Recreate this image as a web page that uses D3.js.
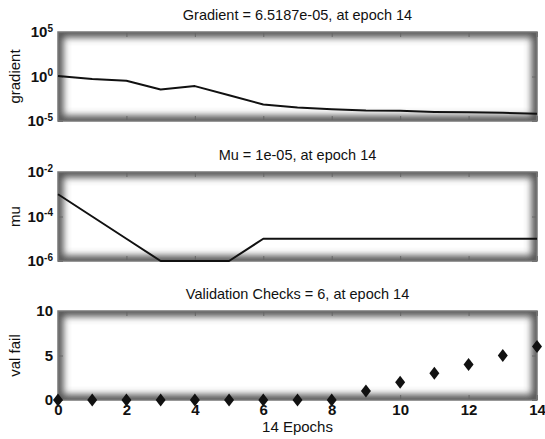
<!DOCTYPE html>
<html>
<head>
<meta charset="utf-8">
<script src="https://cdn.jsdelivr.net/npm/d3@7"></script>
<style>
  body { margin: 0; background: #fff; }
  text { font-family: "Liberation Sans", Arial, sans-serif; }
</style>
</head>
<body>
<div class="canvas"></div>
<script>
// Data
const epochs = [0, 1, 2, 3, 4, 5, 6, 7, 8, 9, 10, 11, 12, 13, 14]
const gradient = [1.15, 0.52, 0.34, 0.035, 0.083, 0.008, 7e-4, 3.2e-4, 2.1e-4, 1.5e-4, 1.4e-4, 1.05e-4, 9.5e-5, 8.3e-5, 6.5187e-5]
const mu = [1e-3, 1e-4, 1e-5, 1e-6, 1e-6, 1e-6, 1e-5, 1e-5, 1e-5, 1e-5, 1e-5, 1e-5, 1e-5, 1e-5, 1e-5]
const valFail = [0, 0, 0, 0, 0, 0, 0, 0, 0, 1, 2, 3, 4, 5, 6]
const xTicks = [0, 2, 4, 6, 8, 10, 12, 14]
const gradTicks = [1e-5, 1, 1e5]
const muTicks = [1e-6, 1e-4, 1e-2]
const valTicks = [0, 5, 10]

const width = 545
const height = 439
const left = 58, right = 537
const panelH = 89

const svg = d3.select('.canvas')
  .append('svg')
    .attr('width', width)
    .attr('height', height)

const defs = svg.append('defs')
defs.append('filter')
    .attr('id', 'soft')
    .attr('x', '-20%').attr('y', '-20%').attr('width', '140%').attr('height', '140%')
  .append('feGaussianBlur')
    .attr('stdDeviation', 3.5)

// Shared x scale
const x = d3.scaleLinear()
  .domain([0, 14])
  .range([left, right])

// Draw a panel frame with the soft inner shadow
const makePanel = (id, top, y, yTicks, yFormat, title, ylabel) => {
  const g = svg.append('g')

  defs.append('clipPath')
      .attr('id', 'clip-' + id)
    .append('rect')
      .attr('x', left).attr('y', top)
      .attr('width', right - left).attr('height', panelH)

  g.append('rect')
    .attr('x', left).attr('y', top)
    .attr('width', right - left).attr('height', panelH)
    .attr('fill', '#fff')

  g.append('g')
      .attr('clip-path', `url(#clip-${id})`)
    .append('rect')
      .attr('x', left).attr('y', top)
      .attr('width', right - left).attr('height', panelH)
      .attr('fill', 'none')
      .attr('stroke', '#555')
      .attr('stroke-width', 11)
      .attr('filter', 'url(#soft)')

  // ticks pointing inward, top/bottom and left/right
  const xb = d3.axisBottom(x).tickValues(xTicks).tickSize(-5).tickFormat('')
  const xt = d3.axisTop(x).tickValues(xTicks).tickSize(-5).tickFormat('')
  const yl = d3.axisLeft(y).tickValues(yTicks).tickSize(-5).tickPadding(5).tickFormat(yFormat)
  const yr = d3.axisRight(y).tickValues(yTicks).tickSize(-5).tickFormat('')

  const axes = g.append('g')
  axes.append('g').attr('transform', `translate(0,${top + panelH})`).call(xb)
  axes.append('g').attr('transform', `translate(0,${top})`).call(xt)
  const ylg = axes.append('g').attr('transform', `translate(${left},0)`).call(yl)
  axes.append('g').attr('transform', `translate(${right},0)`).call(yr)

  axes.selectAll('.domain').remove()
  axes.selectAll('.tick line').attr('stroke', '#666').attr('stroke-width', 1)

  ylg.selectAll('text')
    .attr('font-size', 15)
    .attr('font-weight', 'bold')
    .attr('fill', '#111')

  // frame
  g.append('rect')
    .attr('x', left).attr('y', top)
    .attr('width', right - left).attr('height', panelH)
    .attr('fill', 'none')
    .attr('stroke', '#777')
    .attr('stroke-width', 1.5)

  svg.append('text')
    .attr('x', (left + right) / 2)
    .attr('y', top - 12)
    .attr('text-anchor', 'middle')
    .attr('font-size', 14.5)
    .attr('fill', '#111')
    .text(title)

  svg.append('text')
    .attr('transform', `translate(20,${top + panelH / 2}) rotate(-90)`)
    .attr('text-anchor', 'middle')
    .attr('font-size', 15)
    .attr('fill', '#111')
    .text(ylabel)

  return ylg
}

// power-of-ten labels with superscript
const powLabels = ylg => {
  ylg.selectAll('.tick text').each(function(d) {
    const t = d3.select(this)
    const e = Math.round(Math.log10(d))
    t.text('')
    t.append('tspan').text('10')
    t.append('tspan')
      .attr('dy', '-0.55em')
      .attr('font-size', 10)
      .text(e)
  })
}

// Gradient panel
const top1 = 32
const yGrad = d3.scaleLog().domain([1e-5, 1e5]).range([top1 + panelH, top1])
powLabels(makePanel('g', top1, yGrad, gradTicks, d => d, 'Gradient = 6.5187e-05, at epoch 14', 'gradient'))

svg.append('path')
  .datum(epochs)
  .attr('fill', 'none')
  .attr('stroke', '#111')
  .attr('stroke-width', 2)
  .attr('stroke-linejoin', 'round')
  .attr('d', d3.line().x(d => x(d)).y((d, i) => yGrad(gradient[i])))

// Mu panel
const top2 = 172
const yMu = d3.scaleLog().domain([1e-6, 1e-2]).range([top2 + panelH, top2])
powLabels(makePanel('m', top2, yMu, muTicks, d => d, 'Mu = 1e-05, at epoch 14', 'mu'))

svg.append('path')
  .datum(epochs)
  .attr('fill', 'none')
  .attr('stroke', '#111')
  .attr('stroke-width', 2)
  .attr('stroke-linejoin', 'round')
  .attr('d', d3.line().x(d => x(d)).y((d, i) => yMu(mu[i])))

// Validation panel
const top3 = 311
const yVal = d3.scaleLinear().domain([0, 10]).range([top3 + panelH, top3])
makePanel('v', top3, yVal, valTicks, d3.format('d'), 'Validation Checks = 6, at epoch 14', 'val fail')

svg.append('g')
  .selectAll('path')
  .data(epochs)
  .enter()
  .append('path')
    .attr('transform', (d, i) => `translate(${x(d)},${yVal(valFail[i])})`)
    .attr('d', 'M0,-6.5L5,0L0,6.5L-5,0Z')
    .attr('fill', '#111')

// x tick labels on the bottom panel
const xLab = svg.append('g')
  .attr('transform', `translate(0,${top3 + panelH})`)
  .call(d3.axisBottom(x).tickValues(xTicks).tickSize(0).tickPadding(4))
xLab.select('.domain').remove()
xLab.selectAll('text')
  .attr('font-size', 15)
  .attr('font-weight', 'bold')
  .attr('fill', '#111')

svg.append('text')
  .attr('x', (left + right) / 2)
  .attr('y', 432)
  .attr('text-anchor', 'middle')
  .attr('font-size', 15)
  .attr('fill', '#111')
  .text('14 Epochs')
</script>
</body>
</html>
